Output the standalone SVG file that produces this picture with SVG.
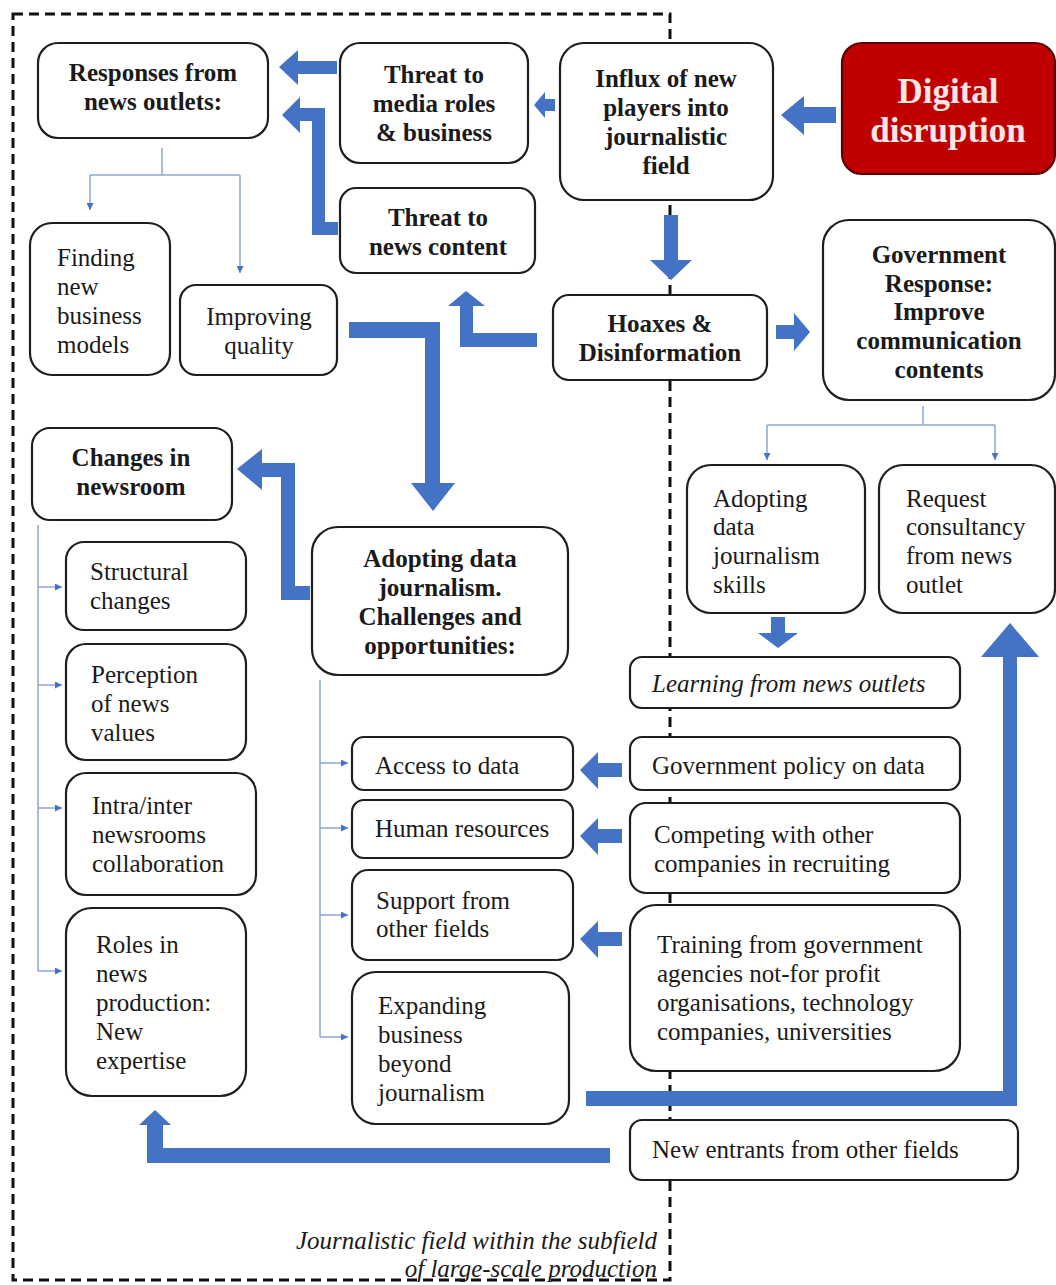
<svg xmlns="http://www.w3.org/2000/svg" width="1056" height="1285" viewBox="0 0 1056 1285">
<defs>
<style>
.box{fill:#fff;stroke:#1e1e1e;stroke-width:2.2}
.red{fill:#c00000;stroke:#5a0000;stroke-width:2.2}
.b{font-family:"Liberation Serif",serif;font-weight:bold;font-size:25px;fill:#1a1a1a;text-anchor:middle}
.r{font-family:"Liberation Serif",serif;font-size:25px;fill:#1a1a1a}
.i{font-family:"Liberation Serif",serif;font-style:italic;font-size:25px;fill:#1a1a1a}
.dr{font-family:"Liberation Serif",serif;font-weight:bold;font-size:35px;fill:#fbe6e6;text-anchor:middle}
.big{fill:#4472c4}
.thin{fill:none;stroke:#8ea6d0;stroke-width:1.5}
.border{fill:none;stroke:#111;stroke-width:3;stroke-dasharray:10 6}
</style>
<marker id="ah" viewBox="0 0 10 10" refX="10" refY="5" markerWidth="7" markerHeight="7" orient="auto" markerUnits="userSpaceOnUse">
<path d="M0,0 L10,5 L0,10 z" fill="#4472c4"/>
</marker>
</defs>
<rect width="1056" height="1285" fill="#fff"/>
<rect id="field-border" class="border" x="13" y="14" width="657" height="1266"/>

<g id="connectors">
<polygon class="big" points="836,107 804,107 804,96 781,115 804,135 804,123 836,123"/>
<polygon class="big" points="555,99 545,99 545,92 534,105 545,118 545,111 555,111"/>
<polygon class="big" points="337,61 298,61 298,50 279,67 298,85 298,74 337,74"/>
<polygon class="big" points="282,115 300,97 300,108 325,108 325,222 338,222 338,235 312,235 312,121 300,121 300,133"/>
<polygon class="big" points="466,291 485,306 473,306 473,333 537,333 537,347 460,347 460,306 448,306"/>
<polygon class="big" points="664,215 678,215 678,260 692,260 671,280 650,260 664,260"/>
<polygon class="big" points="776,325 794,325 794,313 810,332 794,351 794,339 776,339"/>
<polygon class="big" points="349,322 440,322 440,483 455,483 433,511 411,483 425,483 425,338 349,338"/>
<polygon class="big" points="237,469 262,449 262,463 295,463 295,586 310,586 310,600 281,600 281,477 262,477 262,490"/>
<polygon class="big" points="622,763 598,763 598,752 580,770 598,789 598,777 622,777"/>
<polygon class="big" points="622,829 598,829 598,818 580,836 598,855 598,843 622,843"/>
<polygon class="big" points="622,932 598,932 598,921 580,939 598,958 598,946 622,946"/>
<polygon class="big" points="771,617 785,617 785,633 798,633 778,648 758,633 771,633"/>
<polygon class="big" points="586,1091 1003,1091 1003,657 981,657 1010,623 1039,657 1017,657 1017,1106 586,1106"/>
<polygon class="big" points="610,1148 163,1148 163,1125 171,1125 155,1110 139,1125 147,1125 147,1163 610,1163"/>
<path class="thin" d="M162,148 V175 M90,175 H240"/>
<path class="thin" d="M90,175 V210" marker-end="url(#ah)"/>
<path class="thin" d="M240,175 V273" marker-end="url(#ah)"/>
<path class="thin" d="M923,406 V425 M767,425 H995"/>
<path class="thin" d="M767,425 V460" marker-end="url(#ah)"/>
<path class="thin" d="M995,425 V460" marker-end="url(#ah)"/>
<path class="thin" d="M38,525 V971"/>
<path class="thin" d="M38,587 H62" marker-end="url(#ah)"/>
<path class="thin" d="M38,685 H62" marker-end="url(#ah)"/>
<path class="thin" d="M38,808 H62" marker-end="url(#ah)"/>
<path class="thin" d="M38,971 H62" marker-end="url(#ah)"/>
<path class="thin" d="M320,680 V1037"/>
<path class="thin" d="M320,763 H348" marker-end="url(#ah)"/>
<path class="thin" d="M320,828 H348" marker-end="url(#ah)"/>
<path class="thin" d="M320,915 H348" marker-end="url(#ah)"/>
<path class="thin" d="M320,1037 H348" marker-end="url(#ah)"/>
</g>

<g id="responses"><rect class="box" x="38" y="43" width="230" height="95" rx="20"/>
<text class="b" x="153" y="81">Responses from</text><text class="b" x="153" y="110">news outlets:</text></g>
<g id="threat-media"><rect class="box" x="340" y="43" width="188" height="120" rx="20"/>
<text class="b" x="434" y="83">Threat to</text><text class="b" x="434" y="112">media roles</text><text class="b" x="434" y="141">&amp; business</text></g>
<g id="influx"><rect class="box" x="560" y="43" width="213" height="157" rx="24"/>
<text class="b" x="666" y="87">Influx of new</text><text class="b" x="666" y="116">players into</text><text class="b" x="666" y="145">journalistic</text><text class="b" x="666" y="174">field</text></g>
<g id="digital"><rect class="red" x="842" y="43" width="213" height="131" rx="20"/>
<text class="dr" x="948" y="103">Digital</text><text class="dr" x="948" y="142">disruption</text></g>
<g id="threat-content"><rect class="box" x="340" y="188" width="195" height="85" rx="16"/>
<text class="b" x="438" y="226">Threat to</text><text class="b" x="438" y="255">news content</text></g>
<g id="finding"><rect class="box" x="30" y="223" width="140" height="152" rx="22"/>
<text class="r" x="57" y="266">Finding</text><text class="r" x="57" y="295">new</text><text class="r" x="57" y="324">business</text><text class="r" x="57" y="353">models</text></g>
<g id="improving"><rect class="box" x="180" y="285" width="157" height="90" rx="16"/>
<text class="r" x="259" y="325" text-anchor="middle">Improving</text><text class="r" x="259" y="354" text-anchor="middle">quality</text></g>
<g id="hoaxes"><rect class="box" x="553" y="295" width="214" height="85" rx="16"/>
<text class="b" x="660" y="332">Hoaxes &amp;</text><text class="b" x="660" y="361">Disinformation</text></g>
<g id="government"><rect class="box" x="823" y="220" width="232" height="180" rx="26"/>
<text class="b" x="939" y="263">Government</text><text class="b" x="939" y="292">Response:</text><text class="b" x="939" y="320">Improve</text><text class="b" x="939" y="349">communication</text><text class="b" x="939" y="378">contents</text></g>
<g id="changes"><rect class="box" x="32" y="428" width="200" height="92" rx="18"/>
<text class="b" x="131" y="466">Changes in</text><text class="b" x="131" y="495">newsroom</text></g>
<g id="adopting"><rect class="box" x="312" y="527" width="256" height="148" rx="26"/>
<text class="b" x="440" y="567">Adopting data</text><text class="b" x="440" y="596">journalism.</text><text class="b" x="440" y="625">Challenges and</text><text class="b" x="440" y="654">opportunities:</text></g>
<g id="skills"><rect class="box" x="687" y="465" width="178" height="148" rx="24"/>
<text class="r" x="713" y="507">Adopting</text><text class="r" x="713" y="535">data</text><text class="r" x="713" y="564">journalism</text><text class="r" x="713" y="593">skills</text></g>
<g id="consultancy"><rect class="box" x="879" y="465" width="176" height="148" rx="24"/>
<text class="r" x="906" y="507">Request</text><text class="r" x="906" y="535">consultancy</text><text class="r" x="906" y="564">from news</text><text class="r" x="906" y="593">outlet</text></g>
<g id="structural"><rect class="box" x="66" y="542" width="180" height="88" rx="18"/>
<text class="r" x="90" y="580">Structural</text><text class="r" x="90" y="609">changes</text></g>
<g id="perception"><rect class="box" x="66" y="644" width="180" height="116" rx="20"/>
<text class="r" x="91" y="683">Perception</text><text class="r" x="91" y="712">of news</text><text class="r" x="91" y="741">values</text></g>
<g id="intra"><rect class="box" x="66" y="773" width="190" height="122" rx="20"/>
<text class="r" x="92" y="814">Intra/inter</text><text class="r" x="92" y="843">newsrooms</text><text class="r" x="92" y="872">collaboration</text></g>
<g id="roles"><rect class="box" x="66" y="908" width="180" height="188" rx="26"/>
<text class="r" x="96" y="953">Roles in</text><text class="r" x="96" y="982">news</text><text class="r" x="96" y="1011">production:</text><text class="r" x="96" y="1040">New</text><text class="r" x="96" y="1069">expertise</text></g>
<g id="access"><rect class="box" x="352" y="737" width="221" height="53" rx="12"/>
<text class="r" x="375" y="774">Access to data</text></g>
<g id="human"><rect class="box" x="352" y="800" width="221" height="58" rx="12"/>
<text class="r" x="375" y="837">Human resources</text></g>
<g id="support"><rect class="box" x="352" y="870" width="221" height="90" rx="16"/>
<text class="r" x="376" y="909">Support from</text><text class="r" x="376" y="937">other fields</text></g>
<g id="expanding"><rect class="box" x="352" y="972" width="217" height="152" rx="24"/>
<text class="r" x="378" y="1014">Expanding</text><text class="r" x="378" y="1043">business</text><text class="r" x="378" y="1072">beyond</text><text class="r" x="378" y="1101">journalism</text></g>
<g id="learning"><rect class="box" x="630" y="657" width="330" height="51" rx="12"/>
<text class="i" x="652" y="692">Learning from news outlets</text></g>
<g id="policy"><rect class="box" x="630" y="737" width="330" height="53" rx="12"/>
<text class="r" x="652" y="774">Government policy on data</text></g>
<g id="competing"><rect class="box" x="630" y="803" width="330" height="90" rx="16"/>
<text class="r" x="654" y="843">Competing with other</text><text class="r" x="654" y="872">companies in recruiting</text></g>
<g id="training"><rect class="box" x="630" y="905" width="330" height="166" rx="26"/>
<text class="r" x="657" y="953">Training from government</text><text class="r" x="657" y="982">agencies not-for profit</text><text class="r" x="657" y="1011">organisations, technology</text><text class="r" x="657" y="1040">companies, universities</text></g>
<g id="entrants"><rect class="box" x="630" y="1120" width="388" height="60" rx="12"/>
<text class="r" x="652" y="1158">New entrants from other fields</text></g>
<g id="caption">
<text class="i" x="657" y="1249" text-anchor="end">Journalistic field within the subfield</text>
<text class="i" x="657" y="1277" text-anchor="end">of large-scale production</text></g>
</svg>
